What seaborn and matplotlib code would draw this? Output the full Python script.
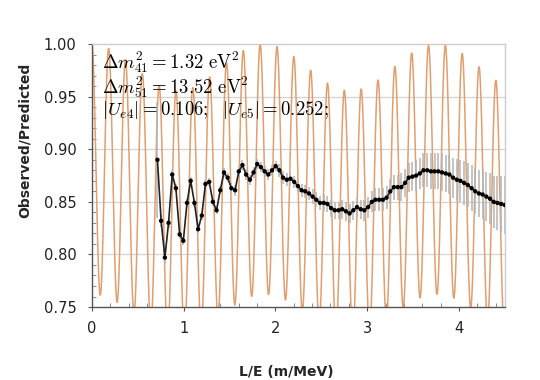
"""
Reactor-style L/E ratio plot: 3+2 sterile oscillation model vs. measured ratio.

Writes out.png (540x380).
"""

import numpy as np
import pandas as pd
import matplotlib
matplotlib.use("Agg")
import matplotlib.pyplot as plt
import seaborn as sns
from matplotlib.ticker import MultipleLocator

# Oscillation parameters quoted on the chart (eV^2 and mixing magnitudes).
DM2_41 = 1.32
DM2_51 = 13.52
U_E4 = 0.106
U_E5 = 0.252

le_obs = [
    0.715, 0.755, 0.796, 0.836, 0.876, 0.916, 0.957, 0.997, 1.037, 1.077,
    1.118, 1.158, 1.198, 1.238, 1.279, 1.319, 1.359, 1.399, 1.440, 1.480,
    1.520, 1.561, 1.601, 1.641, 1.681, 1.722, 1.762, 1.802, 1.842, 1.883,
    1.923, 1.963, 2.003, 2.044, 2.084, 2.124, 2.164, 2.205, 2.245, 2.285,
    2.325, 2.366, 2.406, 2.446, 2.486, 2.527, 2.567, 2.607, 2.647, 2.688,
    2.728, 2.768, 2.808, 2.849, 2.889, 2.929, 2.969, 3.010, 3.050, 3.090,
    3.130, 3.171, 3.211, 3.251, 3.291, 3.332, 3.372, 3.412, 3.452, 3.493,
    3.533, 3.573, 3.613, 3.654, 3.694, 3.734, 3.774, 3.815, 3.855, 3.895,
    3.935, 3.976, 4.016, 4.056, 4.096, 4.137, 4.177, 4.217, 4.257, 4.298,
    4.338, 4.378, 4.418, 4.459, 4.499,
]
ratio_obs = [
    0.890, 0.832, 0.797, 0.830, 0.876, 0.863, 0.819, 0.813, 0.849, 0.870,
    0.849, 0.824, 0.837, 0.867, 0.869, 0.850, 0.842, 0.861, 0.878, 0.873,
    0.863, 0.861, 0.879, 0.885, 0.876, 0.871, 0.878, 0.886, 0.883, 0.879,
    0.876, 0.880, 0.884, 0.880, 0.873, 0.871, 0.872, 0.869, 0.865, 0.861,
    0.860, 0.858, 0.855, 0.852, 0.849, 0.849, 0.848, 0.844, 0.842, 0.842,
    0.843, 0.841, 0.839, 0.842, 0.845, 0.843, 0.842, 0.845, 0.850, 0.852,
    0.852, 0.852, 0.854, 0.860, 0.864, 0.864, 0.864, 0.868, 0.873, 0.874,
    0.875, 0.877, 0.880, 0.880, 0.879, 0.879, 0.879, 0.878, 0.877, 0.876,
    0.873, 0.871, 0.870, 0.868, 0.866, 0.863, 0.860, 0.858, 0.857, 0.855,
    0.853, 0.850, 0.849, 0.848, 0.847,
]
ratio_err = [
    0.055, 0.006, 0.006, 0.005, 0.004, 0.004, 0.004, 0.004, 0.004, 0.004,
    0.004, 0.004, 0.004, 0.004, 0.004, 0.004, 0.004, 0.004, 0.004, 0.004,
    0.005, 0.005, 0.005, 0.005, 0.005, 0.005, 0.005, 0.005, 0.005, 0.005,
    0.005, 0.005, 0.005, 0.006, 0.006, 0.006, 0.006, 0.006, 0.006, 0.006,
    0.006, 0.006, 0.007, 0.007, 0.007, 0.008, 0.008, 0.008, 0.008, 0.008,
    0.009, 0.009, 0.009, 0.009, 0.009, 0.009, 0.010, 0.010, 0.010, 0.011,
    0.011, 0.011, 0.011, 0.012, 0.012, 0.012, 0.013, 0.013, 0.014, 0.014,
    0.015, 0.015, 0.016, 0.016, 0.017, 0.017, 0.017, 0.018, 0.018, 0.019,
    0.019, 0.020, 0.020, 0.021, 0.021, 0.022, 0.022, 0.022, 0.023, 0.023,
    0.024, 0.025, 0.026, 0.027, 0.028,
]

ORANGE = "#E09F6E"


def model_ratio(le):
    """3+2 survival probability for the quoted parameters."""
    u4, u5 = U_E4 ** 2, U_E5 ** 2
    s41 = np.sin(1.267 * DM2_41 * le) ** 2
    s51 = np.sin(1.267 * DM2_51 * le) ** 2
    s54 = np.sin(1.267 * (DM2_51 - DM2_41) * le) ** 2
    return 1 - 4 * ((1 - u4 - u5) * (u4 * s41 + u5 * s51) + u4 * u5 * s54)


def main():
    sns.set_theme(style="ticks")
    plt.rcParams["font.family"] = ["DejaVu Sans"]
    plt.rcParams["mathtext.fontset"] = "cm"

    le_grid = np.linspace(0, 4.5, 2000)
    model = pd.DataFrame({"le": le_grid, "ratio": model_ratio(le_grid)})
    obs = pd.DataFrame({"le": le_obs, "ratio": ratio_obs, "err": ratio_err})

    fig = plt.figure(figsize=(5.4, 3.8), dpi=100)
    ax = fig.add_axes([0.170, 0.192, 0.765, 0.692])

    for y in (0.80, 0.85, 0.90, 0.95):
        ax.axhline(y, color="#d4d4d4", lw=0.9, zorder=0)

    sns.lineplot(data=model, x="le", y="ratio", color=ORANGE, lw=1.1,
                 ax=ax, zorder=1)
    ax.errorbar(obs["le"], obs["ratio"], yerr=obs["err"], fmt="none",
                ecolor="#b4b4b4", elinewidth=1.1, zorder=2)
    sns.lineplot(data=obs, x="le", y="ratio", color="#222222", lw=1.2,
                 ax=ax, zorder=3)
    sns.scatterplot(data=obs, x="le", y="ratio", color="black", s=10,
                    edgecolor="none", ax=ax, zorder=4)

    ax.set_xlim(0, 4.5)
    ax.set_ylim(0.75, 1.0)
    ax.xaxis.set_major_locator(MultipleLocator(1))
    ax.xaxis.set_minor_locator(MultipleLocator(0.2))
    ax.yaxis.set_major_locator(MultipleLocator(0.05))
    ax.yaxis.set_minor_locator(MultipleLocator(0.01))
    ax.yaxis.set_major_formatter(plt.FormatStrFormatter("%.2f"))
    ax.tick_params(which="major", length=3, width=0.8, color="#555555",
                   labelsize=10.5, labelcolor="#222222")
    ax.tick_params(axis="y", which="major", pad=8)
    ax.tick_params(axis="x", which="major", pad=7)
    ax.tick_params(which="minor", direction="in", length=3, width=0.6,
                   color="#777777")

    for side in ("left", "bottom"):
        ax.spines[side].set_color("#555555")
        ax.spines[side].set_linewidth(1.0)
    for side in ("top", "right"):
        ax.spines[side].set_visible(True)
        ax.spines[side].set_color("#cccccc")
        ax.spines[side].set_linewidth(1.0)

    ax.set_xlabel("L/E (m/MeV)", fontsize=10, fontweight="bold")
    ax.set_ylabel("Observed/Predicted", fontsize=10, fontweight="bold")
    ax.xaxis.set_label_coords(0.47, -0.22)
    ax.yaxis.set_label_coords(-0.145, 0.635)

    lines = [
        r"$\Delta m^2_{41} = 1.32\ \mathrm{eV}^2$",
        r"$\Delta m^2_{51} = 13.52\ \mathrm{eV}^2$",
        r"$|U_{e4}| = 0.106;\ \ |U_{e5}| = 0.252;$",
    ]
    ax.text(0.115, 0.995, "\n".join(lines), fontsize=13.5, va="top",
            ha="left", color="black", linespacing=0.95, zorder=5)

    fig.savefig("out.png", dpi=100)
    plt.close(fig)


if __name__ == "__main__":
    main()
